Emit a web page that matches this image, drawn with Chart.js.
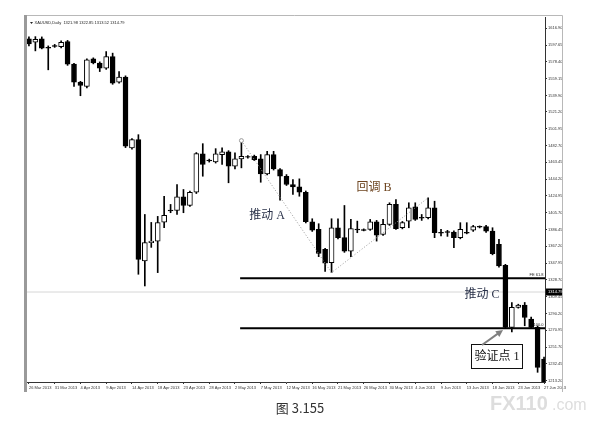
<!DOCTYPE html>
<html>
<head>
<meta charset="utf-8">
<script src="https://cdn.jsdelivr.net/npm/chart.js@4.4.1/dist/chart.umd.min.js"></script>
<style>
  html, body { margin: 0; padding: 0; background: #fff; }
</style>
</head>
<body>
<canvas id="gold-chart" width="600" height="434"></canvas>
<script>
// XAUUSD daily, 26 Mar - 27 Jun 2013
const dateLabels = ['26 Mar 2013', '31 Mar 2013', '4 Apr 2013', '9 Apr 2013', '14 Apr 2013', '18 Apr 2013',
    '23 Apr 2013', '28 Apr 2013', '2 May 2013', '7 May 2013', '12 May 2013', '16 May 2013', '21 May 2013',
    '26 May 2013', '30 May 2013', '4 Jun 2013', '9 Jun 2013', '13 Jun 2013', '18 Jun 2013', '23 Jun 2013', '27 Jun 2013'];

const opens = [1604.7, 1600.9, 1604.7, 1595.2, 1597.1, 1595.9, 1601.6, 1575.8, 1555.2, 1550.2,
    1581.8, 1576.9, 1571.2, 1584.5, 1555.2, 1560.9, 1479.8, 1489.3, 1350.3, 1371.3,
    1373.1, 1394.8, 1408.7, 1408.2, 1423.9, 1413.9, 1429.1, 1473.0, 1465.8, 1463.8,
    1472.2, 1475.3, 1458.8, 1467.3, 1470.0, 1470.2, 1467.3, 1450.1, 1472.2, 1455.0,
    1447.4, 1437.9, 1435.3, 1429.1, 1395.3, 1386.5, 1363.7, 1348.5, 1388.4, 1377.0,
    1361.7, 1387.0, 1386.2, 1386.5, 1395.3, 1380.8, 1392.2, 1415.1, 1388.4, 1396.0,
    1412.4, 1400.3, 1399.9, 1411.3, 1383.2, 1383.9, 1383.4, 1377.0, 1383.2, 1385.7,
    1390.1, 1389.6, 1384.6, 1369.4, 1345.4, 1274.2, 1297.1, 1299.7, 1283.7, 1274.2, 1238.0];
const highs = [1607.0, 1607.3, 1607.0, 1596.7, 1598.4, 1602.4, 1603.0, 1576.7, 1556.1, 1581.8,
    1583.0, 1578.4, 1590.2, 1588.4, 1567.3, 1562.4, 1490.5, 1495.0, 1403.6, 1394.5,
    1401.4, 1424.5, 1415.1, 1437.9, 1432.2, 1430.5, 1474.5, 1484.7, 1467.0, 1479.0,
    1479.8, 1476.7, 1474.1, 1488.2, 1471.0, 1471.6, 1472.2, 1475.9, 1475.9, 1456.2,
    1449.3, 1443.6, 1444.4, 1430.5, 1398.7, 1393.0, 1364.8, 1398.7, 1398.7, 1413.9,
    1397.9, 1396.0, 1387.1, 1397.9, 1396.8, 1397.9, 1417.0, 1420.8, 1395.6, 1417.0,
    1417.0, 1403.6, 1422.7, 1418.8, 1386.5, 1385.4, 1384.8, 1394.2, 1394.2, 1391.1,
    1390.5, 1391.1, 1388.4, 1375.1, 1346.5, 1302.8, 1300.8, 1302.8, 1286.0, 1275.7, 1240.3];
const lows = [1596.7, 1591.0, 1593.3, 1569.3, 1595.0, 1594.4, 1574.4, 1550.2, 1539.6, 1548.7,
    1576.1, 1567.3, 1569.8, 1552.7, 1553.9, 1480.2, 1478.5, 1335.1, 1321.7, 1365.9,
    1337.0, 1388.4, 1405.6, 1403.6, 1405.6, 1412.8, 1427.6, 1447.4, 1463.6, 1462.5,
    1460.8, 1439.9, 1455.8, 1457.0, 1468.2, 1465.3, 1440.5, 1448.8, 1454.5, 1420.0,
    1436.8, 1426.5, 1424.5, 1393.9, 1384.2, 1355.3, 1338.5, 1337.0, 1375.7, 1360.2,
    1355.3, 1382.7, 1384.8, 1385.4, 1373.1, 1379.6, 1391.1, 1386.5, 1387.1, 1388.4,
    1396.8, 1396.8, 1398.5, 1377.0, 1378.9, 1378.5, 1365.6, 1375.7, 1381.4, 1384.2,
    1388.2, 1383.1, 1357.4, 1343.1, 1273.4, 1269.2, 1296.3, 1276.1, 1272.8, 1222.8, 1195.0];
const closes = [1599.0, 1604.3, 1594.1, 1594.1, 1596.2, 1600.9, 1575.8, 1555.2, 1551.3, 1580.7,
    1577.3, 1571.2, 1584.5, 1554.1, 1560.9, 1481.7, 1489.3, 1352.2, 1371.3, 1373.1,
    1394.2, 1402.5, 1407.7, 1423.9, 1413.9, 1429.1, 1473.3, 1460.8, 1464.9, 1473.0,
    1475.3, 1458.8, 1467.3, 1470.2, 1469.1, 1466.5, 1450.1, 1472.2, 1455.8, 1447.4,
    1437.9, 1435.3, 1429.1, 1395.3, 1385.7, 1359.1, 1347.7, 1388.4, 1377.0, 1361.7,
    1387.3, 1386.0, 1385.2, 1395.3, 1380.0, 1392.2, 1415.1, 1387.3, 1394.2, 1411.3,
    1397.9, 1399.4, 1411.3, 1382.7, 1382.3, 1383.0, 1377.0, 1386.5, 1382.3, 1389.6,
    1389.1, 1384.6, 1358.7, 1344.6, 1274.2, 1297.1, 1299.7, 1285.6, 1274.2, 1228.5, 1200.0];

const priceTicks = [1616.90, 1597.65, 1578.40, 1559.15, 1539.90, 1521.20, 1501.95, 1482.70, 1463.45,
    1444.20, 1424.95, 1405.70, 1386.45, 1367.20, 1347.95, 1328.70, 1309.45, 1290.20, 1270.95,
    1251.70, 1232.45, 1213.20];
const lastPrice = 1314.79;
const headerText = 'XAUUSD,Daily  1321.98 1322.85 1313.52 1314.79';

// fibo expansion levels and the A-B-C swing
const fibLevels = [1330.5, 1273.4];
const fibNames = ['FE 61.8', '100.0'];
const fibStart = 32.8;
const swingX = [33, 47, 62];
const swingY = [1488.2, 1337.0, 1422.7];

const xMin = -0.3;
const xMax = 80.15;
const idx = opens.map((_, i) => i);
const tiny = { size: 4, family: 'Liberation Sans' };

const overlay = {
    id: 'overlay',
    beforeDraw(chart) {
        const { ctx } = chart;
        ctx.save();
        ctx.fillStyle = '#fff';
        ctx.fillRect(0, 0, chart.width, chart.height);
        ctx.restore();
    },
    afterDraw(chart) {
        const { ctx, scales: { y } } = chart;
        ctx.save();

        // window frame
        ctx.fillStyle = '#9a9a9a';
        ctx.fillRect(24, 15, 3, 377);
        ctx.strokeStyle = '#b8b8b8';
        ctx.lineWidth = 1;
        ctx.beginPath();
        ctx.moveTo(27, 15.5);
        ctx.lineTo(562.5, 15.5);
        ctx.lineTo(562.5, 392);
        ctx.stroke();

        // header
        ctx.fillStyle = '#222';
        ctx.beginPath();
        ctx.moveTo(30, 22);
        ctx.lineTo(33, 22);
        ctx.lineTo(31.5, 24);
        ctx.fill();
        ctx.font = '4px "Liberation Sans"';
        ctx.textBaseline = 'middle';
        ctx.fillText(headerText, 34.5, 23);

        // last price box on the axis
        const py = y.getPixelForValue(lastPrice);
        ctx.fillStyle = '#000';
        ctx.fillRect(546, py - 3.5, 16, 7);
        ctx.fillStyle = '#fff';
        ctx.font = '4px "Liberation Sans"';
        ctx.textAlign = 'left';
        ctx.fillText(lastPrice.toFixed(2), 548, py);

        // fibo level names
        ctx.fillStyle = '#222';
        ctx.textAlign = 'right';
        ctx.textBaseline = 'bottom';
        fibLevels.forEach((v, k) => ctx.fillText(fibNames[k], 543.5, y.getPixelForValue(v) - 1.5));

        // wave labels
        ctx.textAlign = 'center';
        ctx.textBaseline = 'middle';
        ctx.font = '12px "Liberation Serif", "Noto Sans CJK SC"';
        ctx.fillStyle = '#283048';
        ctx.fillText('推动 A', 267, 216);
        ctx.fillText('推动 C', 482, 295);
        ctx.fillStyle = '#6e4520';
        ctx.fillText('回调 B', 374, 188);

        // check point box + arrow
        ctx.fillStyle = '#fff';
        ctx.fillRect(471.5, 344.5, 51, 24);
        ctx.strokeStyle = '#111';
        ctx.strokeRect(471.5, 344.5, 51, 24);
        ctx.fillStyle = '#111';
        ctx.fillText('验证点 1', 497, 357);

        const ax = 482, ay = 345, bx = 503, by = 330;
        const ang = Math.atan2(by - ay, bx - ax);
        ctx.strokeStyle = '#808080';
        ctx.fillStyle = '#808080';
        ctx.lineWidth = 2;
        ctx.beginPath();
        ctx.moveTo(ax, ay);
        ctx.lineTo(bx - 5 * Math.cos(ang), by - 5 * Math.sin(ang));
        ctx.stroke();
        ctx.beginPath();
        ctx.moveTo(bx, by);
        ctx.lineTo(bx - 7 * Math.cos(ang) + 3.5 * Math.sin(ang), by - 7 * Math.sin(ang) - 3.5 * Math.cos(ang));
        ctx.lineTo(bx - 7 * Math.cos(ang) - 3.5 * Math.sin(ang), by - 7 * Math.sin(ang) + 3.5 * Math.cos(ang));
        ctx.fill();

        // watermark
        ctx.textAlign = 'left';
        ctx.textBaseline = 'alphabetic';
        ctx.fillStyle = 'rgba(170,170,170,0.4)';
        ctx.font = 'bold 20px "Liberation Sans"';
        ctx.fillText('FX110', 490, 410);
        ctx.font = '16px "Liberation Sans"';
        ctx.fillText('.com', 552, 410);

        // caption
        ctx.fillStyle = '#333';
        ctx.textAlign = 'center';
        ctx.textBaseline = 'middle';
        ctx.font = '13px "Noto Sans CJK SC"';
        ctx.fillText('图 3.155', 300, 408);
        ctx.restore();
    },
};

new Chart(document.getElementById('gold-chart').getContext('2d'), {
    type: 'bar',
    data: {
        datasets: [
            {
                type: 'line',
                data: [{ x: xMin, y: lastPrice }, { x: xMax, y: lastPrice }],
                borderColor: '#d6d6d6', borderWidth: 1, pointRadius: 0, order: 5,
            },
            {
                data: idx.map((i) => ({ x: i, y: [lows[i], highs[i]] })),
                backgroundColor: '#000', barThickness: 1, grouped: false, order: 4,
            },
            {
                data: idx.map((i) => ({ x: i, y: [opens[i], closes[i]] })),
                backgroundColor: idx.map((i) => (closes[i] > opens[i] ? '#fff' : '#000')),
                borderColor: '#000', borderWidth: 1, borderSkipped: false,
                barThickness: 5, grouped: false, order: 3,
            },
            ...fibLevels.map((v) => ({
                type: 'line',
                data: [{ x: fibStart, y: v }, { x: xMax, y: v }],
                borderColor: '#000', borderWidth: 2, pointRadius: 0, order: 2,
            })),
            {
                type: 'line',
                data: swingX.map((x, k) => ({ x, y: swingY[k] })),
                borderColor: '#9a9a9a', borderWidth: 1, borderDash: [1, 2],
                pointRadius: [2, 0, 0], pointBorderColor: '#9a9a9a', pointBackgroundColor: '#fff',
                pointBorderWidth: 1, order: 1,
            },
        ],
    },
    options: {
        responsive: false,
        animation: false,
        devicePixelRatio: 1,
        layout: { padding: { left: 27, top: 17, right: 38, bottom: 43 } },
        plugins: { legend: { display: false }, tooltip: { enabled: false } },
        scales: {
            x: {
                type: 'linear', min: xMin, max: xMax, offset: false,
                grid: { drawOnChartArea: false, offset: false, tickLength: 2, color: '#333' },
                border: { color: '#333' },
                ticks: {
                    align: 'start', autoSkip: false, maxRotation: 0, minRotation: 0, padding: 1,
                    font: tiny, color: '#333',
                    callback: (v) => dateLabels[v / 4],
                },
                afterBuildTicks: (s) => { s.ticks = dateLabels.map((_, k) => ({ value: k * 4 })); },
                afterFit: (s) => { s.height = 9; s.paddingLeft = 0; s.paddingRight = 0; },
            },
            y: {
                position: 'right', min: 1211.7, max: 1629.8,
                grid: { drawOnChartArea: false, tickLength: 2, color: '#333' },
                border: { color: '#333' },
                ticks: {
                    autoSkip: false, padding: 1, font: tiny, color: '#333',
                    callback: (v) => v.toFixed(2),
                },
                afterBuildTicks: (s) => { s.ticks = priceTicks.map((v) => ({ value: v })); },
                afterFit: (s) => { s.width = 17; s.paddingTop = 0; s.paddingBottom = 0; },
            },
        },
    },
    plugins: [overlay],
});
</script>
</body>
</html>
